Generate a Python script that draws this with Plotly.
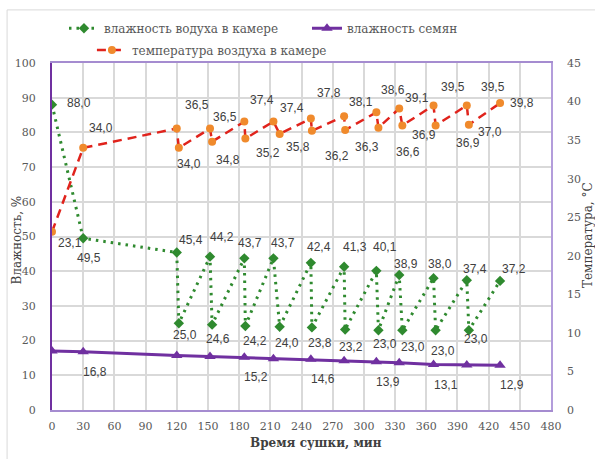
import plotly.graph_objects as go

# Drying time, min (peak / trough sampling points)
time_air = [0, 30, 120, 122, 152, 154, 185, 186, 213, 219, 249, 250,
            281, 282, 312, 314, 334, 337, 367, 369, 399, 401, 431]
# Air humidity in the chamber, %
air_rh = [88.0, 49.5, 45.4, 25.0, 44.2, 24.6, 43.7, 24.2, 43.7, 24.0, 42.4, 23.8,
          41.3, 23.2, 40.1, 23.0, 38.9, 23.0, 38.0, 23.0, 37.4, 23.0, 37.2]
# Air temperature in the chamber, °C
air_temp = [23.1, 34.0, 36.5, 34.0, 36.5, 34.8, 37.4, 35.2, 37.4, 35.8, 37.8, 36.2,
            38.1, 36.3, 38.6, 36.6, 39.1, 36.9, 39.5, 36.9, 39.5, 37.0, 39.8]

# Seed moisture, %
time_seed = [0, 30, 120, 152, 185, 213, 249, 281, 312, 334, 367, 399, 431]
seed_rh = [17.0, 16.8, 15.7, 15.4, 15.2, 14.8, 14.6, 14.2, 13.9, 13.6, 13.1, 13.0, 12.9]
seed_labeled = [False, True, False, False, True, False, True, False, True, False, True, False, True]

x_ticks = list(range(0, 481, 30))

# label offsets (px, right / down) for the data labels
rh_off = [(27, -2), (6, 20), (14, -12), (6, 12), (12, -20), (6, 14), (6, -15), (10, 15),
          (10, -15), (7, 16), (8, -16), (8, 16), (11, -20), (6, 17), (9, -24), (7, 14),
          (7, -11), (11, 17), (6, -14), (7, 21), (8, -11), (7, 9), (14, -12)]
temp_off = [(18, 11), (18, -20), (20, -24), (10, 16), (15, -12), (16, 18), (18, -22), (23, 14),
            (19, -14), (18, 13), (18, -26), (25, 25), (17, -14), (22, 17), (17, -22), (30, 24),
            (18, -11), (22, 10), (19, -18), (32, 18), (26, -18), (21, 7), (22, 0)]
seed_off = [(12, 20)] * 13

GREEN = "#2f8a2f"
RED = "#e0231c"
ORANGE = "#f08a2c"
PURPLE = "#7030a0"
SERIF = "DejaVu Serif"
LABEL_FONT = dict(family="Liberation Sans", size=12, color="#404040")
TICK_FONT = dict(family=SERIF, size=11, color="#595959")
LEGEND_FONT = dict(family=SERIF, size=12, color="#595959")
TITLE_FONT = dict(family=SERIF, size=12, color="#404040")

fig = go.Figure()

fig.add_trace(go.Scatter(
    x=time_air, y=air_rh, name="влажность водуха в камере",
    mode="lines+markers",
    line=dict(color=GREEN, width=3, dash="2.5px,5px"),
    marker=dict(symbol="diamond", size=8, color=GREEN),
    legend="legend", showlegend=True,
))
fig.add_trace(go.Scatter(
    x=time_seed, y=seed_rh, name="влажность семян",
    mode="lines+markers",
    line=dict(color=PURPLE, width=3),
    marker=dict(symbol="triangle-up", size=10, color=PURPLE),
    legend="legend3", showlegend=True,
))
fig.add_trace(go.Scatter(
    x=time_air, y=air_temp, name="температура воздуха в камере",
    mode="lines+markers", yaxis="y2",
    line=dict(color=RED, width=2.5, dash="9px,6px"),
    marker=dict(symbol="circle", size=8, color=ORANGE),
    legend="legend2", showlegend=True,
))

annotations = []

def fmt(v):
    return f"{v:.1f}".replace(".", ",")

for t, v, (dx, dy) in zip(time_air, air_rh, rh_off):
    annotations.append(dict(x=t, y=v, xref="x", yref="y", text=fmt(v), showarrow=False,
                            xshift=dx, yshift=-dy, font=LABEL_FONT))
for t, v, (dx, dy) in zip(time_air, air_temp, temp_off):
    annotations.append(dict(x=t, y=v, xref="x", yref="y2", text=fmt(v), showarrow=False,
                            xshift=dx, yshift=-dy, font=LABEL_FONT))
for t, v, lab, (dx, dy) in zip(time_seed, seed_rh, seed_labeled, seed_off):
    if lab:
        annotations.append(dict(x=t, y=v, xref="x", yref="y", text=fmt(v), showarrow=False,
                                xshift=dx, yshift=-dy, font=LABEL_FONT))

# axis titles
annotations += [
    dict(text="Влажность, %", x=-0.071, y=0.49, xref="paper", yref="paper",
         xanchor="center", yanchor="middle",
         textangle=-90, showarrow=False, font=TITLE_FONT),
    dict(text="Температура, °С", x=1.074, y=0.504, xref="paper", yref="paper",
         xanchor="center", yanchor="middle",
         textangle=-90, showarrow=False, font=TITLE_FONT),
    dict(text="<b>Время сушки, мин</b>", x=0.529, y=-0.095, xref="paper", yref="paper",
         xanchor="center", yanchor="middle",
         showarrow=False, font=TITLE_FONT),
]

legend_common = dict(orientation="h", xanchor="left", yanchor="top",
                     bgcolor="rgba(0,0,0,0)", font=LEGEND_FONT, itemwidth=30, visible=True)

fig.update_layout(
    width=595, height=459,
    margin=dict(l=52, r=44, t=63, b=49),
    paper_bgcolor="white", plot_bgcolor="white",
    font=dict(family=SERIF, color="#595959"),
    showlegend=True,
    annotations=annotations,
    xaxis=dict(range=[0, 480], tickvals=x_ticks, showgrid=True, gridcolor="#d9d9d9", gridwidth=1.5,
               zeroline=False, showline=True, linecolor="#a58cd0", linewidth=1.5, mirror=True,
               ticks="", ticklabelstandoff=5, tickfont=TICK_FONT),
    yaxis=dict(range=[0, 100], dtick=10, showgrid=True, gridcolor="#d9d9d9", gridwidth=1.5,
               zeroline=False, showline=True, linecolor=PURPLE, linewidth=2,
               ticks="", ticklabelstandoff=12, tickfont=TICK_FONT),
    yaxis2=dict(range=[0, 45], dtick=5, overlaying="y", side="right", showgrid=False,
                zeroline=False, showline=True, linecolor="#b39ddb", linewidth=1.5,
                ticks="", ticklabelstandoff=12, tickfont=TICK_FONT),
    legend=dict(x=0.024, y=1.142, **legend_common),
    legend3=dict(x=0.511, y=1.142, **legend_common),
    legend2=dict(x=0.080, y=1.079, **legend_common),
    shapes=[dict(type="rect", xref="paper", yref="paper", x0=-0.090, x1=1.1, y0=-0.16, y1=1.153,
                 line=dict(color="#d9d9d9", width=1), layer="below")],
)

fig.write_html("out.html")
